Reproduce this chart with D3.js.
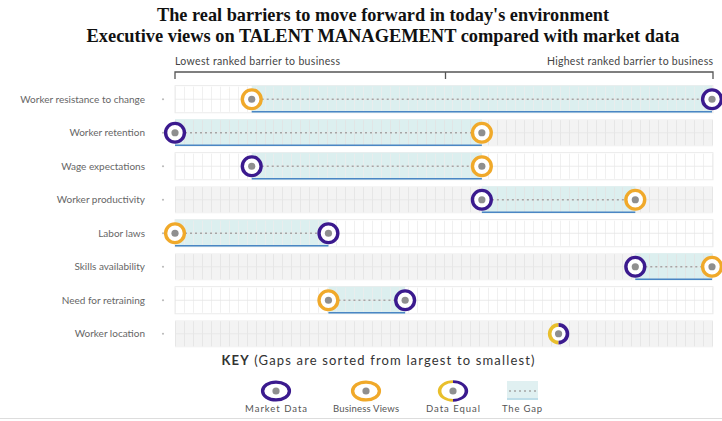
<!DOCTYPE html>
<html><head><meta charset="utf-8">
<script src="https://cdn.jsdelivr.net/npm/d3@7"></script>
<style>body{margin:0;background:#fff}svg{display:block}</style>
</head><body>
<svg id="c" width="722" height="421"></svg>
<script>
const titleLines = ["The real barriers to move forward in today's environment",
  "Executive views on TALENT MANAGEMENT compared with market data"];
const categories = ["Worker resistance to change","Worker retention","Wage expectations","Worker productivity","Labor laws","Skills availability","Need for retraining","Worker location"];
const marketData   = [8,1,2,5,3,7,4,6];
const businessViews= [2,5,5,7,1,8,3,6];
const axisLabels = ["Lowest ranked barrier to business","Highest ranked barrier to business"];
const keyItems = ["Market Data","Business Views","Data Equal","The Gap"];

const PURPLE="#3b1a8e", ORANGE="#f0a92a", EQ_OR="#e9bf2c", DOT="#8f8f8f";
const svg = d3.select("#c");
svg.append("line").attr("x1",0).attr("x2",722).attr("y1",418.5).attr("y2",418.5).attr("stroke","#ddd");

// title
const titleW=[452,593];
svg.selectAll("text.title").data(titleLines).join("text")
  .attr("x",383).attr("y",(d,i)=>21+i*21).attr("text-anchor","middle")
  .attr("font-family","Liberation Serif, Times New Roman, serif").attr("font-weight","bold")
  .attr("font-size",19.5).attr("fill","#111")
  .attr("textLength",(d,i)=>titleW[i]).attr("lengthAdjust","spacingAndGlyphs").text(d=>d);

const x = d3.scaleLinear().domain([1,8]).range([175,712]);
const y = d3.scaleBand().domain(categories).range([84,349]).paddingInner(0.19).paddingOuter(0.05);
const bh = y.bandwidth();

// bracket
const br = svg.append("g").attr("stroke","#555").attr("stroke-width",1.3).attr("fill","none");
br.append("path").attr("d",`M${x(1)},79V72H${x(8)+1}V79M${(x(1)+x(8))/2+2},72V79`);
svg.append("text").attr("x",x(1)).attr("y",65).attr("font-family","Lato, sans-serif").attr("font-size",10.5).attr("fill","#444")
  .attr("textLength",165).attr("lengthAdjust","spacing").text(axisLabels[0]);
svg.append("text").attr("x",x(8)+1).attr("y",65).attr("text-anchor","end").attr("font-family","Lato, sans-serif").attr("font-size",10.5).attr("fill","#444")
  .attr("textLength",166).attr("lengthAdjust","spacing").text(axisLabels[1]);

const rows = svg.selectAll("g.row").data(categories).join("g").attr("class","row")
  .attr("transform",d=>`translate(0,${y(d)})`);
const x0=x(1), x1=x(8)+1;
rows.append("rect").attr("x",x0).attr("width",x1-x0).attr("height",bh)
  .attr("fill",(d,i)=>i%2?"#f3f3f3":"#fff").attr("stroke",(d,i)=>i%2?"none":"#e6e6e6").attr("stroke-width",0.8);
// gap fill
rows.append("rect")
  .attr("x",(d,i)=>x(Math.min(marketData[i],businessViews[i])))
  .attr("width",(d,i)=>Math.abs(x(marketData[i])-x(businessViews[i])))
  .attr("height",bh).attr("fill","#dcefef");
// grid
const gridVals = d3.range(0,61).map(k=>1+k*7/60);
rows.each(function(d,i){
  const g=d3.select(this);
  g.selectAll("line.v").data(gridVals).join("line").attr("class","v")
   .attr("x1",v=>Math.round(x(v))+0.5).attr("x2",v=>Math.round(x(v))+0.5).attr("y1",1).attr("y2",bh-1)
   .attr("stroke",i%2?"#e2e2e2":"#ececec").attr("stroke-width",0.8);
  g.append("line").attr("x1",x0).attr("x2",x1).attr("y1",bh/2).attr("y2",bh/2).attr("stroke","#e6e6e6").attr("stroke-width",0.8);
});
// labels and small dots
rows.append("text").attr("x",145).attr("y",bh/2+3.5).attr("text-anchor","end")
  .attr("font-family","Lato, sans-serif").attr("font-size",10).attr("fill","#666").text(d=>d);
rows.append("circle").attr("cx",163).attr("cy",bh/2).attr("r",1.1).attr("fill","#bbb");
// dashed gap line + bottom line
rows.filter((d,i)=>marketData[i]!==businessViews[i]).each(function(d){
  const i=categories.indexOf(d); const g=d3.select(this);
  const a=x(Math.min(marketData[i],businessViews[i])), b=x(Math.max(marketData[i],businessViews[i]));
  g.append("line").attr("x1",a).attr("x2",b).attr("y1",bh/2).attr("y2",bh/2)
   .attr("stroke","#a5a5a5").attr("stroke-width",1.6).attr("stroke-dasharray","2,3");
  g.append("line").attr("x1",a).attr("x2",b).attr("y1",bh-1).attr("y2",bh-1)
   .attr("stroke","#4a86c4").attr("stroke-width",1.5);
});
// markers
function marker(g,cx,cy,type,rx,ry){
  if(type==="eq"){
    const arc=(s,e,c)=>{g.append("path").attr("d",d3.arc().innerRadius(rx-3.4).outerRadius(rx+0.2).startAngle(s).endAngle(e)())
      .attr("transform",`translate(${cx},${cy}) scale(1,${ry/rx})`).attr("fill",c);};
    arc(Math.PI,2*Math.PI,EQ_OR); arc(0,Math.PI,PURPLE);
  } else {
    g.append("ellipse").attr("cx",cx).attr("cy",cy).attr("rx",rx-1.6).attr("ry",ry-1.6).attr("fill","#fff")
     .attr("stroke",type==="m"?PURPLE:ORANGE).attr("stroke-width",3.4);
  }
  g.append("circle").attr("cx",cx).attr("cy",cy).attr("r",3.6).attr("fill",DOT);
}
rows.each(function(d,i){
  const g=d3.select(this);
  if(marketData[i]===businessViews[i]){
    g.append("circle").attr("cx",x(marketData[i])).attr("cy",bh/2).attr("r",9).attr("fill","#fff");
    marker(g,x(marketData[i]),bh/2,"eq",10.5,10.5);
  } else {
    marker(g,x(businessViews[i]),bh/2,"b",11,11);
    marker(g,x(marketData[i]),bh/2,"m",11,11);
  }
});

// key
const key = svg.append("text").attr("x",378).attr("y",365).attr("text-anchor","middle")
  .attr("font-family","Lato, sans-serif").attr("font-size",13).attr("fill","#333")
  .attr("textLength",313).attr("lengthAdjust","spacing");
key.append("tspan").attr("font-weight","bold").text("KEY");
key.append("tspan").text(" (Gaps are sorted from largest to smallest)");
const keyX=[276,366,453,522];
const kx = d=>keyX[keyItems.indexOf(d)];
const kg = svg.append("g");
marker(kg,kx("Market Data"),391,"m",15,10.5);
marker(kg,kx("Business Views"),391,"b",15,10.5);
kg.append("ellipse").attr("cx",kx("Data Equal")).attr("cy",391).attr("rx",13).attr("ry",8).attr("fill","#fff");
marker(kg,kx("Data Equal"),391,"eq",15,10.5);
kg.append("rect").attr("x",kx("The Gap")-15).attr("y",381).attr("width",31).attr("height",19).attr("fill","#e0f0f1");
kg.append("line").attr("x1",kx("The Gap")-13).attr("x2",kx("The Gap")+14).attr("y1",391).attr("y2",391).attr("stroke","#a5a5a5").attr("stroke-width",1.4).attr("stroke-dasharray","2,3");
kg.append("line").attr("x1",kx("The Gap")-15).attr("x2",kx("The Gap")+16).attr("y1",399).attr("y2",399).attr("stroke","#9ccbe0").attr("stroke-width",1);
const keyW=[62,66,54,40];
kg.selectAll("text").data(keyItems).join("text").attr("x",d=>kx(d)).attr("y",412).attr("text-anchor","middle")
  .attr("font-family","Lato, sans-serif").attr("font-size",9.5).attr("fill","#555")
  .attr("textLength",(d,i)=>keyW[i]).attr("lengthAdjust","spacing").text(d=>d);
</script>
</body></html>
